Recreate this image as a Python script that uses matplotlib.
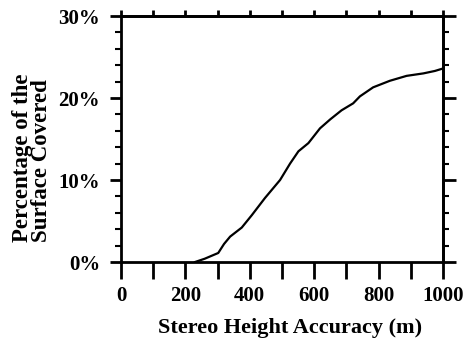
import matplotlib
matplotlib.use('Agg')
import matplotlib.pyplot as plt
import numpy as np

# curve (stereo height accuracy in m, percent covered)
accuracy = [230, 260, 302, 320, 339, 375, 406, 447, 494, 525, 551, 582, 618,
            650, 685, 721, 742, 783, 835, 887, 939, 975, 1000]
covered = [0.0, 0.4, 1.1, 2.2, 3.1, 4.2, 5.7, 7.8, 10.0, 12.0, 13.5, 14.5, 16.3,
           17.4, 18.5, 19.35, 20.2, 21.3, 22.1, 22.7, 23.0, 23.3, 23.6]

x_major = [0, 200, 400, 600, 800, 1000]
x_minor = [100, 300, 500, 700, 900]
y_major = [0, 10, 20, 30]
y_labels = ['0%', '10%', '20%', '30%']
y_minor = [2, 4, 6, 8, 12, 14, 16, 18, 22, 24, 26, 28]

plt.rcParams['font.family'] = ['Liberation Serif', 'DejaVu Serif']
plt.rcParams['font.weight'] = 'bold'

fig = plt.figure(figsize=(4.66, 3.48), dpi=100)
ax = fig.add_axes([121/466, 1 - 262/348, 322/466, 246/348])

ax.plot(accuracy, covered, color='black', lw=1.6)
ax.set_xlim(0, 1000)
ax.set_ylim(0, 30)

for s in ax.spines.values():
    s.set_linewidth(2)

ax.set_xticks(x_major)
ax.set_xticks(x_minor, minor=True)
ax.set_yticks(y_major)
ax.set_yticklabels(y_labels)
ax.set_yticks(y_minor, minor=True)

ax.tick_params(axis='x', which='both', direction='out', length=12.5, width=2,
               labelsize=15, pad=5)
ax.tick_params(axis='y', which='major', direction='out', length=8, width=2,
               labelsize=15, pad=7)
ax.tick_params(axis='y', which='minor', direction='out', length=4.5, width=1.5)

top = ax.secondary_xaxis('top')
top.set_xticks(x_major + x_minor)
top.tick_params(direction='out', length=4.5, width=2, labeltop=False)
top.spines['top'].set_linewidth(2)

right = ax.secondary_yaxis('right')
right.set_yticks([0, 10, 20, 30])
right.set_yticks(y_minor, minor=True)
right.tick_params(which='major', direction='out', length=9.5, width=2, labelright=False)
right.tick_params(which='minor', direction='out', length=4.5, width=1.5)
right.spines['right'].set_linewidth(2)

fig.text(290/466, 1 - 328/348, 'Stereo Height Accuracy (m)', ha='center', va='center',
         fontsize=16, fontweight='bold')
fig.text(32/466, 1 - 158/348, 'Percentage of the\nSurface Covered', ha='center', va='center',
         rotation=90, fontsize=16.5, fontweight='bold', multialignment='left', linespacing=0.9)

fig.savefig('out.png', dpi=100)
